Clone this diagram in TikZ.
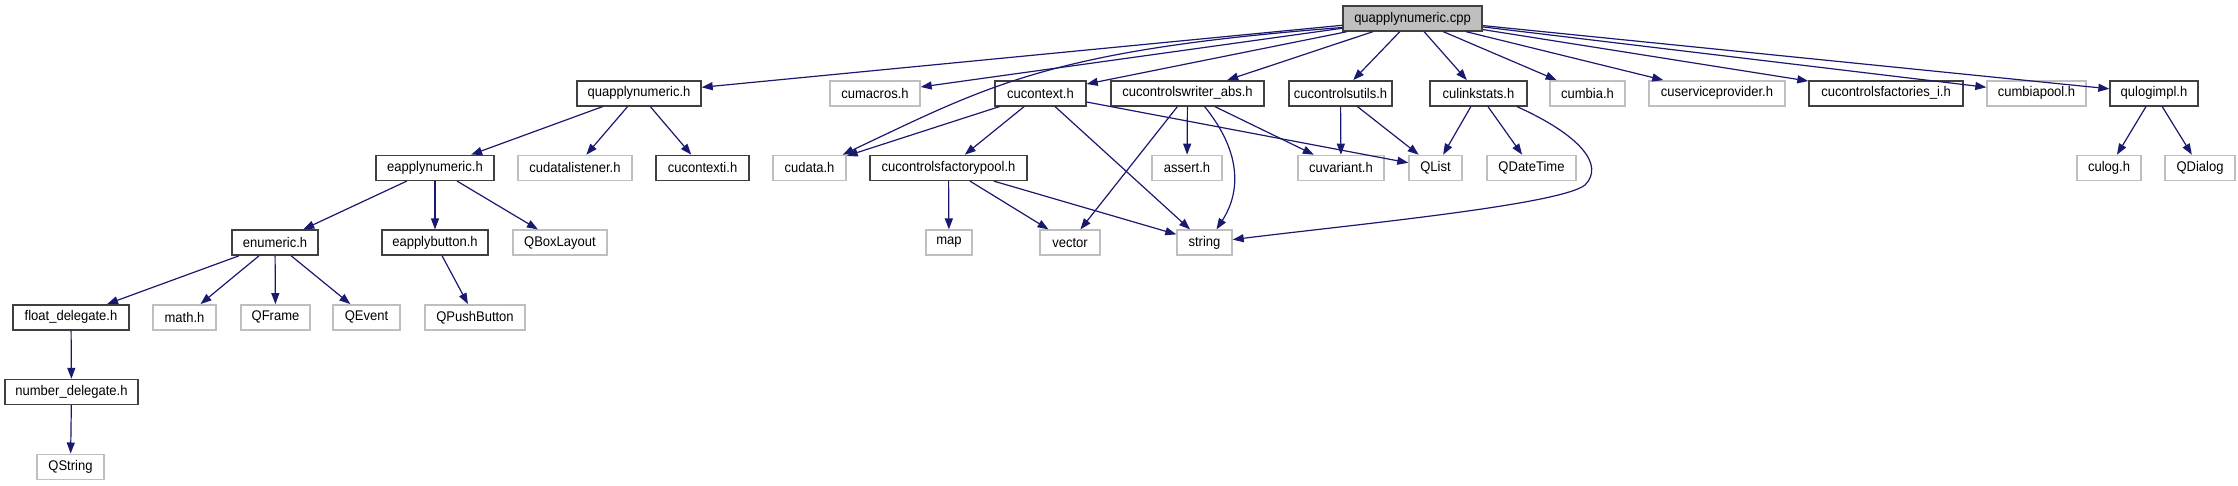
\documentclass[tikz,border=0pt]{standalone}
\usepackage{fontspec}
\setmainfont{Liberation Sans}[FakeStretch=0.93]
\usetikzlibrary{arrows.meta}
\definecolor{edgeblue}{HTML}{191970}
\definecolor{extgray}{HTML}{BFBFBF}
\begin{document}
\begin{tikzpicture}[x=1pt,y=-1pt,
  box/.style={inner sep=0pt, minimum height=25pt, line width=1.4pt, fill=white,
    font=\fontsize{14}{16}\selectfont},
  doc/.style={box, draw=black!75},
  ext/.style={box, draw=extgray},
  rootbox/.style={box, draw=black!75, fill=extgray},
  dep/.style={draw=edgeblue, line width=1.2pt, -{Triangle[length=11pt,width=8pt]}, fill=none},
]
\useasboundingbox (0,0) rectangle (2238,485);
\def\ra{18.5}\def\rb{93.3}\def\rc{167.9}\def\rd{242.6}\def\re{317.3}\def\rf{392}\def\rg{466.7}
% row 0
\node[rootbox, minimum width=139pt] (cpp) at (1412.5,\ra) {quapplynumeric.cpp};
% row 1
\node[doc, minimum width=124pt] (qnh) at (639,\rb) {quapplynumeric.h};
\node[ext, minimum width=90pt] (cumacros) at (875,\rb) {cumacros.h};
\node[doc, minimum width=91pt] (cucontext) at (1040.5,\rb) {cucontext.h};
\node[doc, minimum width=153pt] (wabs) at (1187.5,\rb) {cucontrolswriter\_abs.h};
\node[doc, minimum width=103pt] (cutils) at (1340.5,\rb) {cucontrolsutils.h};
\node[doc, minimum width=97pt] (culink) at (1478.5,\rb) {culinkstats.h};
\node[ext, minimum width=75pt] (cumbia) at (1587.5,\rb) {cumbia.h};
\node[ext, minimum width=136pt] (cusp) at (1717,\rb) {cuserviceprovider.h};
\node[doc, minimum width=154pt] (cfi) at (1886,\rb) {cucontrolsfactories\_i.h};
\node[ext, minimum width=99pt] (cpool) at (2036.5,\rb) {cumbiapool.h};
\node[doc, minimum width=88pt] (qlog) at (2154,\rb) {qulogimpl.h};
% row 2
\node[doc, minimum width=118pt] (eapp) at (435,\rc) {eapplynumeric.h};
\node[ext, minimum width=114pt] (cdl) at (575,\rc) {cudatalistener.h};
\node[doc, minimum width=93pt] (cctxi) at (702.5,\rc) {cucontexti.h};
\node[ext, minimum width=73pt] (cudata) at (809.5,\rc) {cudata.h};
\node[doc, minimum width=157pt] (cfpool) at (948.5,\rc) {cucontrolsfactorypool.h};
\node[ext, minimum width=70pt] (assert) at (1187,\rc) {assert.h};
\node[ext, minimum width=86pt] (cuvar) at (1341,\rc) {cuvariant.h};
\node[ext, minimum width=53pt] (qlist) at (1435.5,\rc) {QList};
\node[ext, minimum width=89pt] (qdt) at (1531.5,\rc) {QDateTime};
\node[ext, minimum width=64pt] (culog) at (2109,\rc) {culog.h};
\node[ext, minimum width=70pt] (qdialog) at (2200,\rc) {QDialog};
% row 3
\node[doc, minimum width=86pt] (enum) at (275,\rd) {enumeric.h};
\node[doc, minimum width=106pt] (ebtn) at (435,\rd) {eapplybutton.h};
\node[ext, minimum width=94pt] (qbox) at (560,\rd) {QBoxLayout};
\node[ext, minimum width=46pt] (map) at (949,\rd) {map};
\node[ext, minimum width=60pt] (vector) at (1070,\rd) {vector};
\node[ext, minimum width=55pt] (string) at (1204.5,\rd) {string};
% row 4
\node[doc, minimum width=116pt] (fdel) at (71,\re) {float\_delegate.h};
\node[ext, minimum width=63pt] (math) at (184.5,\re) {math.h};
\node[ext, minimum width=69pt] (qframe) at (275.5,\re) {QFrame};
\node[ext, minimum width=67pt] (qevent) at (366.5,\re) {QEvent};
\node[ext, minimum width=100pt] (qpb) at (475,\re) {QPushButton};
% row 5, 6
\node[doc, minimum width=133pt] (ndel) at (71.5,\rf) {number\_delegate.h};
\node[ext, minimum width=67pt] (qstring) at (70.5,\rg) {QString};
% edges from cpp
\draw[dep] (cpp) -- (qnh);
\draw[dep] (cpp) -- (cumacros);
\draw[dep] ([yshift=-9pt]cpp.west) .. controls (1050,50) and (990,85) .. ([xshift=-4pt]cudata.north east);
\draw[dep] (cpp) -- (cucontext);
\draw[dep] (cpp) -- (wabs);
\draw[dep] (cpp) -- (cutils);
\draw[dep] (cpp) -- (culink);
\draw[dep] (cpp) -- (cumbia);
\draw[dep] (cpp) -- (cusp);
\draw[dep] (cpp) -- (cfi);
\draw[dep] (cpp) -- (cpool);
\draw[dep] (cpp) -- (qlog);
% quapplynumeric.h
\draw[dep] (qnh) -- (eapp);
\draw[dep] (qnh) -- (cdl);
\draw[dep] (qnh) -- (cctxi);
% eapplynumeric.h
\draw[dep] (eapp) -- (enum);
\draw[dep] (eapp) -- (ebtn);
\draw[dep] (eapp) -- (qbox);
% enumeric.h
\draw[dep] (enum) -- (fdel);
\draw[dep] (enum) -- (math);
\draw[dep] (enum) -- (qframe);
\draw[dep] (enum) -- (qevent);
\draw[dep] (ebtn) -- (qpb);
\draw[dep] (fdel) -- (ndel);
\draw[dep] (ndel) -- (qstring);
% cucontext.h
\draw[dep] (cucontext) -- (cudata);
\draw[dep] (cucontext) -- (cfpool);
\draw[dep] (cucontext) -- (string);
\draw[dep] (cucontext) -- (qlist);
% cucontrolswriter_abs.h
\draw[dep] ([xshift=-10pt]wabs.south) -- (vector);
\draw[dep] (wabs) -- (assert);
\draw[dep] ([xshift=17pt]wabs.south) .. controls (1240,150) and (1242,190) .. ([xshift=12pt]string.north);
\draw[dep] (wabs) -- (cuvar);
% cucontrolsutils.h
\draw[dep] (cutils) -- (cuvar);
\draw[dep] (cutils) -- (qlist);
% culinkstats.h
\draw[dep] (culink) -- (qlist);
\draw[dep] (culink) -- (qdt);
\draw[dep] ([xshift=-11pt]culink.south east) .. controls (1580,135) and (1605,165) .. (1585,185) .. controls (1560,205) and (1350,225) .. ([yshift=3pt]string.east);
% cucontrolsfactorypool.h
\draw[dep] (cfpool) -- (map);
\draw[dep] (cfpool) -- (vector);
\draw[dep] (cfpool) -- (string);
% qulogimpl.h
\draw[dep] (qlog) -- (culog);
\draw[dep] (qlog) -- (qdialog);
\end{tikzpicture}
\end{document}
